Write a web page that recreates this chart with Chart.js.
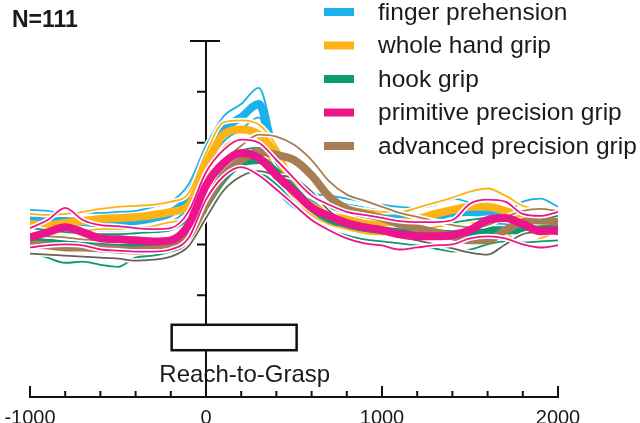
<!DOCTYPE html>
<html>
<head>
<meta charset="utf-8">
<script src="https://cdn.jsdelivr.net/npm/chart.js@4.4.0/dist/chart.umd.min.js"></script>
<style>
html, body { margin: 0; padding: 0; background: #fff; }
#wrap { width: 640px; height: 423px; }
</style>
</head>
<body>
<div id="wrap"><canvas id="c" width="640" height="423"></canvas></div>
<script>
// time from movement onset (ms), one reading every 100 ms
const times = [-1000,-900,-800,-700,-600,-500,-400,-300,-200,-100,0,100,200,300,400,500,600,700,800,900,1000,1100,1200,1300,1400,1500,1600,1700,1800,1900,2000];

const grips = ['finger prehension','whole hand grip','hook grip','primitive precision grip','advanced precision grip'];
const colors = ['#1cb0ec','#fdb316','#0e9a70','#ec148b','#a77d53'];

// population firing rate (mean, +SE, -SE)
const fingerMean  = [17.4,17.4,17.3,17.2,17.1,17.2,17.3,17.6,18.1,19.7,23.5,26.3,27.5,28.8,22.3,19.6,19.1,18.8,18.6,18.3,18.0,17.6,17.4,17.7,18.1,18.2,18.0,17.8,17.6,17.5,17.4];
const fingerUpper = [18.4,18.3,18.0,18.1,18.1,18.2,18.3,18.7,19.2,20.9,24.7,27.6,28.8,30.4,24.3,20.7,20.0,19.8,19.5,19.2,18.9,18.7,18.6,18.9,19.5,19.1,18.4,18.2,19.2,19.5,18.7];
const fingerLower = [16.6,16.5,16.5,16.4,16.3,16.3,16.4,16.6,17.2,18.6,22.1,25.1,26.3,27.5,20.8,18.6,18.1,17.8,17.6,17.3,17.1,16.8,16.6,16.8,17.2,17.3,17.1,17.0,16.8,16.7,16.6];

const wholeMean  = [17.0,16.9,17.1,17.3,17.5,17.6,17.7,17.9,18.2,18.8,22.8,25.8,26.3,25.8,23.8,20.4,18.8,18.0,17.7,17.4,17.2,17.2,17.5,18.0,18.4,18.7,18.7,18.3,17.7,17.3,17.2];
const wholeUpper = [18.0,17.9,18.0,18.2,18.5,18.7,18.8,18.9,19.2,20.0,24.0,27.0,27.2,26.8,24.7,21.3,19.7,19.0,18.7,18.4,18.2,18.2,18.6,19.1,19.6,20.2,20.5,19.8,18.8,18.4,18.2];
const wholeLower = [16.0,15.9,16.1,16.3,16.5,16.5,16.6,16.8,17.2,17.6,21.6,24.6,25.3,24.8,22.3,19.4,17.9,17.0,16.5,16.1,16.0,16.0,16.3,16.7,17.0,17.2,16.6,16.2,15.0,15.6,16.2];

const hookMean  = [15.4,15.2,15.0,14.9,14.8,14.8,14.9,15.0,15.2,16.2,18.9,21.5,23.0,23.3,22.1,20.4,18.6,17.5,17.0,16.6,16.4,16.2,16.1,16.1,16.0,16.2,16.4,16.4,16.4,16.5,16.6];
const hookUpper = [16.6,16.4,16.2,16.1,16.0,16.0,16.1,16.2,16.4,17.5,20.2,22.6,24.2,24.5,23.3,21.6,19.8,18.6,18.1,17.7,17.5,17.3,17.2,17.3,17.2,17.4,17.6,17.5,17.4,17.5,17.8];
const hookLower = [14.3,13.7,13.2,13.3,13.0,12.8,13.7,13.9,14.3,15.0,17.6,20.3,21.8,22.0,20.9,19.1,17.4,16.4,15.9,15.5,15.3,15.1,14.9,14.6,14.3,14.5,15.0,15.3,15.2,15.3,15.4];

const primMean  = [15.7,16.2,16.7,16.2,15.6,15.5,15.4,15.3,15.4,16.9,20.8,23.0,24.0,23.5,21.8,20.2,18.6,17.8,17.1,16.7,16.4,16.0,15.8,15.8,15.9,16.4,17.4,17.6,17.0,16.3,16.4];
const primUpper = [16.6,17.4,18.6,17.4,16.9,16.8,16.6,16.5,16.6,18.2,22.1,24.3,25.3,25.0,23.3,21.5,19.8,18.9,18.2,17.9,17.6,17.3,17.2,17.2,17.4,19.0,19.4,19.2,18.0,17.8,18.2];
const primLower = [14.7,14.9,15.0,14.9,14.5,14.4,14.3,14.3,14.5,15.6,19.4,21.7,22.6,21.8,20.4,18.9,17.4,16.4,15.6,15.1,14.9,14.5,14.7,14.9,15.0,15.6,15.8,15.6,15.0,14.7,14.9];

const advMean  = [15.0,14.9,14.7,14.7,14.6,14.5,14.4,14.5,14.7,15.8,19.0,21.8,23.3,24.1,23.8,23.3,21.8,19.7,18.5,18.0,17.6,17.0,16.6,16.2,15.8,15.4,15.4,16.4,17.2,17.4,17.2];
const advUpper = [15.9,15.8,15.7,15.5,15.4,15.3,15.3,15.4,15.7,17.0,20.2,23.1,24.7,25.8,25.6,24.8,23.3,21.2,19.9,19.3,18.7,18.1,17.7,17.3,16.9,16.7,16.9,17.7,18.3,18.5,18.3];
const advLower = [14.1,14.0,13.9,13.8,13.7,13.6,13.4,13.5,13.8,14.8,17.6,20.3,21.7,22.2,21.8,21.5,20.2,18.3,17.1,16.7,16.4,15.8,15.4,15.0,14.6,14.2,14.0,15.0,16.0,16.2,16.0];

// reach-to-grasp epoch (ms)
const reachStart = -195;
const reachEnd = 515;
const reachLabelAt = 220;
const yTicks = [5,10,15,20,25,30];
const yTop = 35;

const font = '"Liberation Sans", Arial, Helvetica, sans-serif';

function pts(arr) {
  return times.map((t, i) => ({x: t, y: arr[i]}));
}

function line(data, color, width) {
  return {
    data: pts(data),
    borderColor: color,
    borderWidth: width,
    pointRadius: 0,
    cubicInterpolationMode: 'monotone',
    fill: false
  };
}

function group(idx, mean, upper, lower, lowColor) {
  const c = colors[idx];
  return [
    line(upper, '#fff', 5),
    line(lower, '#fff', 5),
    line(upper, c, 1.8),
    line(lower, lowColor || c, 1.8),
    line(mean, c, 8)
  ];
}

// bottom to top
let sets = [].concat(
  group(0, fingerMean, fingerUpper, fingerLower),
  group(1, wholeMean, wholeUpper, wholeLower),
  group(2, hookMean, hookUpper, hookLower),
  group(4, advMean, advUpper, advLower, '#6b5e52'),
  group(3, primMean, primUpper, primLower)
);
sets = sets.reverse(); // chart.js paints dataset 0 last

const axes = {
  id: 'axes',
  beforeDatasetsDraw(chart) {
    const ctx = chart.ctx, x = chart.scales.x, y = chart.scales.y;
    const x0 = x.getPixelForValue(0);
    const yb = y.getPixelForValue(0);
    ctx.save();
    ctx.strokeStyle = '#111';
    ctx.lineWidth = 2;
    ctx.beginPath();
    ctx.moveTo(x0, y.getPixelForValue(yTop));
    ctx.lineTo(x0, yb);
    yTicks.forEach(v => {
      const py = y.getPixelForValue(v);
      ctx.moveTo(x0 - 9, py);
      ctx.lineTo(x0, py);
    });
    const pt = y.getPixelForValue(yTop);
    ctx.moveTo(x0 - 16, pt);
    ctx.lineTo(x0 + 14, pt);
    ctx.stroke();
    ctx.restore();
  },
  afterDraw(chart) {
    const ctx = chart.ctx, x = chart.scales.x, y = chart.scales.y;
    const yb = y.getPixelForValue(0);
    ctx.save();
    ctx.strokeStyle = '#111';
    ctx.lineWidth = 2;
    ctx.beginPath();
    ctx.moveTo(x.getPixelForValue(-1000) - 1, yb);
    ctx.lineTo(x.getPixelForValue(2000) + 1, yb);
    x.ticks.forEach(t => {
      const px = x.getPixelForValue(t.value);
      const len = t.value % 1000 === 0 ? 11 : 6;
      ctx.moveTo(px, yb);
      ctx.lineTo(px, yb - len);
    });
    ctx.stroke();

    // reach-to-grasp box
    const bx1 = x.getPixelForValue(reachStart), bx2 = x.getPixelForValue(reachEnd);
    const by1 = y.getPixelForValue(7.1), by2 = y.getPixelForValue(4.6);
    ctx.fillStyle = '#fff';
    ctx.fillRect(bx1, by1, bx2 - bx1, by2 - by1);
    ctx.lineWidth = 2.5;
    ctx.strokeRect(bx1, by1, bx2 - bx1, by2 - by1);
    ctx.fillStyle = '#1a1a1a';
    ctx.font = '24px ' + font;
    ctx.textAlign = 'center';
    ctx.textBaseline = 'alphabetic';
    ctx.fillText('Reach-to-Grasp', x.getPixelForValue(reachLabelAt), 382);

    ctx.textAlign = 'left';
    ctx.font = 'bold 23px ' + font;
    ctx.fillText('N=111', 12, 27);

    // legend
    ctx.font = '24.5px ' + font;
    ctx.textBaseline = 'middle';
    grips.forEach((g, i) => {
      const cy = 12 + i * 33.5;
      ctx.fillStyle = colors[i];
      ctx.fillRect(324, cy - 4, 30, 8);
      ctx.fillStyle = '#1a1a1a';
      ctx.fillText(g, 378, cy + 1);
    });
    ctx.restore();
  }
};

new Chart(document.getElementById('c'), {
  type: 'line',
  data: {datasets: sets},
  options: {
    responsive: false,
    animation: false,
    devicePixelRatio: 1,
    layout: {padding: {left: 30, right: 82, top: 41, bottom: -17}},
    plugins: {legend: {display: false}, tooltip: {enabled: false}},
    scales: {
      x: {
        type: 'linear',
        min: -1000,
        max: 2000,
        grid: {display: false, drawTicks: false},
        border: {display: false},
        afterFit: s => { s.paddingLeft = 0; s.paddingRight = 0; },
        ticks: {
          stepSize: 200,
          autoSkip: false,
          maxRotation: 0,
          padding: 12,
          color: '#1a1a1a',
          font: {family: font, size: 20, lineHeight: 0.95},
          callback: v => (v % 1000 === 0 ? String(v) : '')
        }
      },
      y: {
        display: false,
        min: 0,
        max: yTop
      }
    }
  },
  plugins: [axes]
});
</script>
</body>
</html>
